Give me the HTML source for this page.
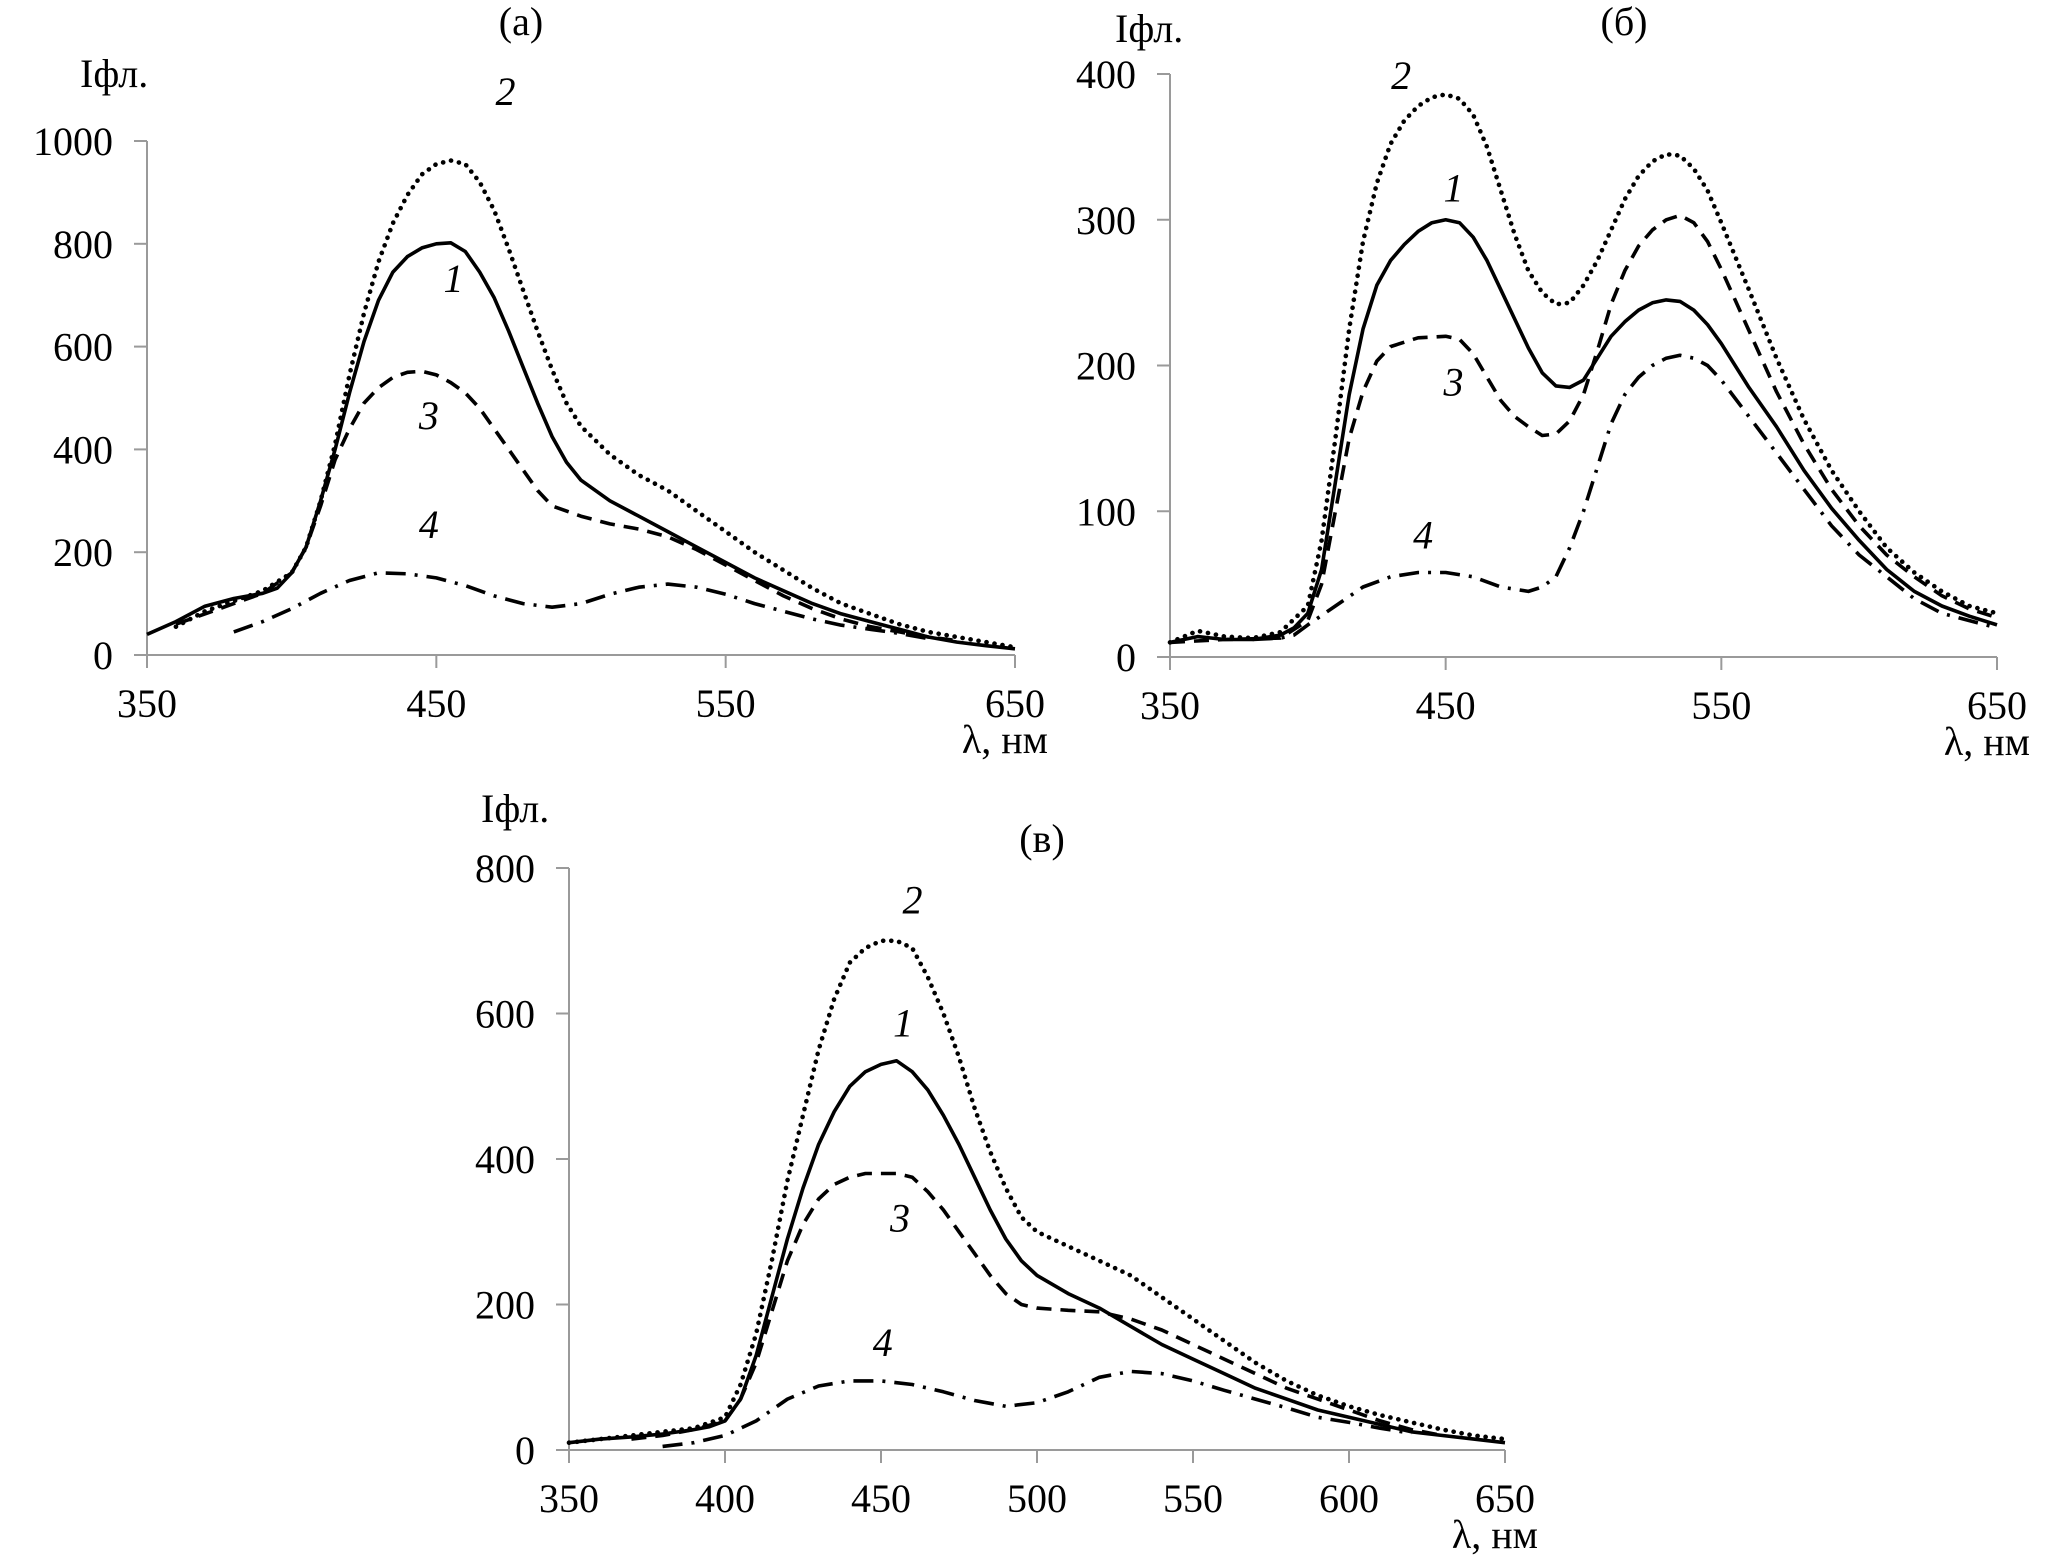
<!DOCTYPE html>
<html><head><meta charset="utf-8">
<style>
html,body{margin:0;padding:0;background:#fff;}
svg{display:block;font-family:"Liberation Serif","DejaVu Serif",serif;}
</style></head>
<body>
<svg id="fig" width="2067" height="1559" viewBox="0 0 2067 1559" xmlns="http://www.w3.org/2000/svg"></svg>
<script>
// ---- Chart (a) data ----
const aS1x=[350,360,370,380,390,395,400,405,410,415,420,425,430,435,440,445,450,455,460,465,470,475,480,485,490,495,500,510,520,530,540,550,560,570,580,590,600,610,620,630,640,650];
const aS1y=[40,65,95,110,120,130,160,210,300,400,510,610,690,745,775,792,800,802,785,745,695,630,560,490,425,375,340,300,270,240,210,180,150,125,100,80,65,50,35,25,18,12];
const aS2x=[360,370,380,390,400,405,410,415,420,425,430,435,440,445,450,455,460,465,470,475,480,485,490,495,500,510,520,530,540,550,560,570,580,590,600,610,620,630,640,650];
const aS2y=[55,85,105,125,160,210,300,410,545,665,765,840,895,935,955,962,955,920,865,790,710,630,555,490,445,390,350,320,280,240,200,165,130,100,80,60,45,35,25,15];
const aS3x=[360,370,380,390,400,405,410,415,420,425,430,435,440,445,450,455,460,465,470,475,480,485,490,500,510,520,530,540,550,560,570,580,590,600,610,620,630];
const aS3y=[60,80,100,120,160,210,290,380,440,490,520,540,550,552,545,530,510,480,440,400,360,320,290,270,255,245,230,205,175,145,115,90,70,55,45,35,28];
const aS4x=[380,390,400,410,420,430,440,450,460,470,480,490,500,510,520,530,540,550,560,570,580,590,600,610,620];
const aS4y=[45,65,90,120,145,160,158,150,135,115,100,93,100,118,132,138,132,118,100,85,70,58,50,42,32];
const aYTicks=[0,200,400,600,800,1000];
const aXTicks=[350,450,550,650];

// ---- Chart (б) data ----
const bS1x=[350,355,360,370,380,390,395,400,405,410,415,420,425,430,435,440,445,450,455,460,465,470,475,480,485,490,495,500,505,510,515,520,525,530,535,540,545,550,560,570,580,590,600,610,620,630,640,650];
const bS1y=[10,12,14,12,12,15,20,30,60,120,180,225,255,272,283,292,298,300,298,288,272,252,232,212,195,186,185,190,205,220,230,238,243,245,244,238,228,215,185,158,128,102,80,60,45,35,28,22];
const bS2x=[350,360,370,380,390,400,405,410,415,420,425,430,435,440,445,450,455,460,465,470,475,480,485,490,495,500,505,510,515,520,525,530,535,540,545,550,560,570,580,590,600,610,620,630,640,650];
const bS2y=[10,18,14,13,17,35,80,150,225,285,325,352,368,378,384,386,383,372,350,320,290,265,250,242,243,255,272,293,314,330,340,345,344,335,320,298,252,205,163,128,100,75,58,45,35,30];
const bS3x=[350,370,390,400,405,410,415,420,425,430,440,450,455,460,465,470,475,480,485,490,495,500,505,510,515,520,525,530,535,540,545,550,560,570,580,590,600,610,620,630,640,650];
const bS3y=[10,12,13,25,50,100,150,182,203,213,219,220,218,208,192,176,165,158,152,153,162,180,210,242,265,282,293,300,303,298,285,266,224,182,146,115,90,70,55,42,33,27];
const bS4x=[380,390,395,400,410,420,430,440,450,460,470,480,485,490,495,500,505,510,515,520,525,530,535,540,545,550,560,570,580,590,600,610,620,630,640,650];
const bS4y=[12,13,15,22,35,48,55,58,58,55,48,45,48,55,75,100,130,160,180,192,200,205,207,205,200,190,165,140,115,90,70,55,40,30,25,20];
const bYTicks=[0,100,200,300,400];
const bXTicks=[350,450,550,650];

// ---- Chart (в) data ----
const cS1x=[350,360,370,380,390,395,400,405,410,415,420,425,430,435,440,445,450,455,460,465,470,475,480,485,490,495,500,510,520,530,540,550,560,570,580,590,600,610,620,630,640,650];
const cS1y=[10,15,18,22,28,32,40,70,130,210,290,360,420,465,500,520,530,535,520,495,460,420,375,330,290,260,240,215,195,170,145,125,105,85,70,55,45,35,25,20,15,10];
const cS2x=[350,360,370,380,390,400,405,410,415,420,425,430,435,440,445,450,455,460,465,470,475,480,485,490,495,500,510,520,530,540,550,560,570,580,590,600,610,620,630,640,650];
const cS2y=[10,15,20,25,30,45,90,160,260,370,460,550,620,670,690,700,700,690,650,600,540,470,410,360,320,300,280,260,240,210,180,150,120,95,75,60,48,38,28,20,15];
const cS3x=[370,380,390,400,405,410,415,420,425,430,435,440,445,450,455,460,465,470,475,480,485,490,495,500,510,520,530,540,550,560,570,580,590,600,610,620,630];
const cS3y=[15,20,28,40,70,120,190,260,310,345,365,375,380,380,380,375,355,330,300,270,240,215,200,195,192,190,180,165,145,125,105,85,70,55,40,28,20];
const cS4x=[380,390,400,410,420,430,440,450,460,470,480,490,500,510,520,530,540,550,560,570,580,590,600,610,620];
const cS4y=[5,10,20,40,70,88,95,95,90,80,68,60,65,80,100,108,105,95,82,70,58,45,38,30,23];
const cYTicks=[0,200,400,600,800];
const cXTicks=[350,400,450,500,550,600,650];

const NS="http://www.w3.org/2000/svg";
const svg=document.getElementById('fig');
function mk(tag,attrs,parent){const e=document.createElementNS(NS,tag);for(const k in attrs)e.setAttribute(k,attrs[k]);(parent||svg).appendChild(e);return e;}
const styles={
 s1:{"stroke-width":"3.6","stroke-dasharray":"none"},
 s2:{"stroke-width":"4.6","stroke-dasharray":"0.1 8","stroke-linecap":"round"},
 s3:{"stroke-width":"3.6","stroke-dasharray":"15 9"},
 s4:{"stroke-width":"3.6","stroke-dasharray":"20 9 3 9"}
};
function chart(cfg){
 const g=mk('g',{});
 
 
 const sx=v=>cfg.x0+(v-cfg.xmin)/(cfg.xmax-cfg.xmin)*(cfg.x1-cfg.x0);
 const sy=v=>cfg.y0-(v-cfg.ymin)/(cfg.ymax-cfg.ymin)*(cfg.y0-cfg.y1);
 const ax=mk('path',{d:`M${cfg.x0},${cfg.y1} L${cfg.x0},${cfg.y0} L${cfg.x1},${cfg.y0}`,fill:'none',stroke:'#9a9a9a','stroke-width':'2'},g);
 
 
 cfg.yt.forEach(v=>{
  const t=mk('line',{x1:cfg.x0-13,x2:cfg.x0,y1:sy(v),y2:sy(v),stroke:'#9a9a9a','stroke-width':'2'},g);
  
  
  const l=mk('text',{x:cfg.x0-34,y:sy(v)+14,'text-anchor':'end','font-size':'40'},g);
  
  
  l.textContent=v;
 });
 cfg.xt.forEach(v=>{
  const t=mk('line',{x1:sx(v),x2:sx(v),y1:cfg.y0,y2:cfg.y0+13,stroke:'#9a9a9a','stroke-width':'2'},g);
  
  
  const l=mk('text',{x:sx(v),y:cfg.y0+62,'text-anchor':'middle','font-size':'40'},g);
  
  
  l.textContent=v;
 });
 cfg.series.forEach((s,i)=>{
  const d=s.x.map((v,j)=>(j?'L':'M')+sx(v).toFixed(1)+','+sy(s.y[j]).toFixed(1)).join(' ');
  const p=mk('path',Object.assign({d:d,fill:'none',stroke:'#000','stroke-linejoin':'round'},styles[s.st]),g);
  
  
 });
 cfg.labels.forEach(lb=>{
  const t=mk('text',{x:sx(lb[1])-6,y:sy(lb[2])+5,'text-anchor':'middle','font-size':'40','font-style':'italic'},g);
  
  
  t.textContent=lb[0];
 });
 const xt=mk('text',{x:cfg.x1+33,y:cfg.y0+98,'text-anchor':'end','font-size':'40'},g);
 
 
 xt.textContent='λ, нм';
 const yt=mk('text',{x:cfg.yx,y:cfg.yy,'font-size':'40'},g);
 
 
 yt.textContent='Iфл.';
 const tt=mk('text',{x:cfg.tx,y:cfg.ty,'text-anchor':'middle','font-size':'40'},g);
 
 
 tt.textContent=cfg.title;
}
chart({name:'chart-a',x0:147,x1:1015,y0:655,y1:141,xmin:350,xmax:650,ymin:0,ymax:1000,yt:aYTicks,xt:aXTicks,
 series:[{x:aS1x,y:aS1y,st:'s1'},{x:aS2x,y:aS2y,st:'s2'},{x:aS3x,y:aS3y,st:'s3'},{x:aS4x,y:aS4y,st:'s4'}],
 labels:[['2',476,1080],['1',458,716],['3',449.5,449],['4',449.5,237]],
 yx:80,yy:87,tx:521,ty:35,title:'(a)'});
chart({name:'chart-b',x0:1170,x1:1997,y0:657,y1:74,xmin:350,xmax:650,ymin:0,ymax:400,yt:bYTicks,xt:bXTicks,
 series:[{x:bS1x,y:bS1y,st:'s1'},{x:bS2x,y:bS2y,st:'s2'},{x:bS3x,y:bS3y,st:'s3'},{x:bS4x,y:bS4y,st:'s4'}],
 labels:[['2',436,393],['1',455,316],['3',455,183],['4',444,78]],
 yx:1115,yy:42,tx:1624,ty:35,title:'(б)'});
chart({name:'chart-c',x0:569,x1:1505,y0:1450,y1:868,xmin:350,xmax:650,ymin:0,ymax:800,yt:cYTicks,xt:cXTicks,
 series:[{x:cS1x,y:cS1y,st:'s1'},{x:cS2x,y:cS2y,st:'s2'},{x:cS3x,y:cS3y,st:'s3'},{x:cS4x,y:cS4y,st:'s4'}],
 labels:[['2',462,744],['1',459,575],['3',458,307],['4',452.5,136]],
 yx:481,yy:822,tx:1042,ty:852,title:'(в)'});
</script>
</body></html>
